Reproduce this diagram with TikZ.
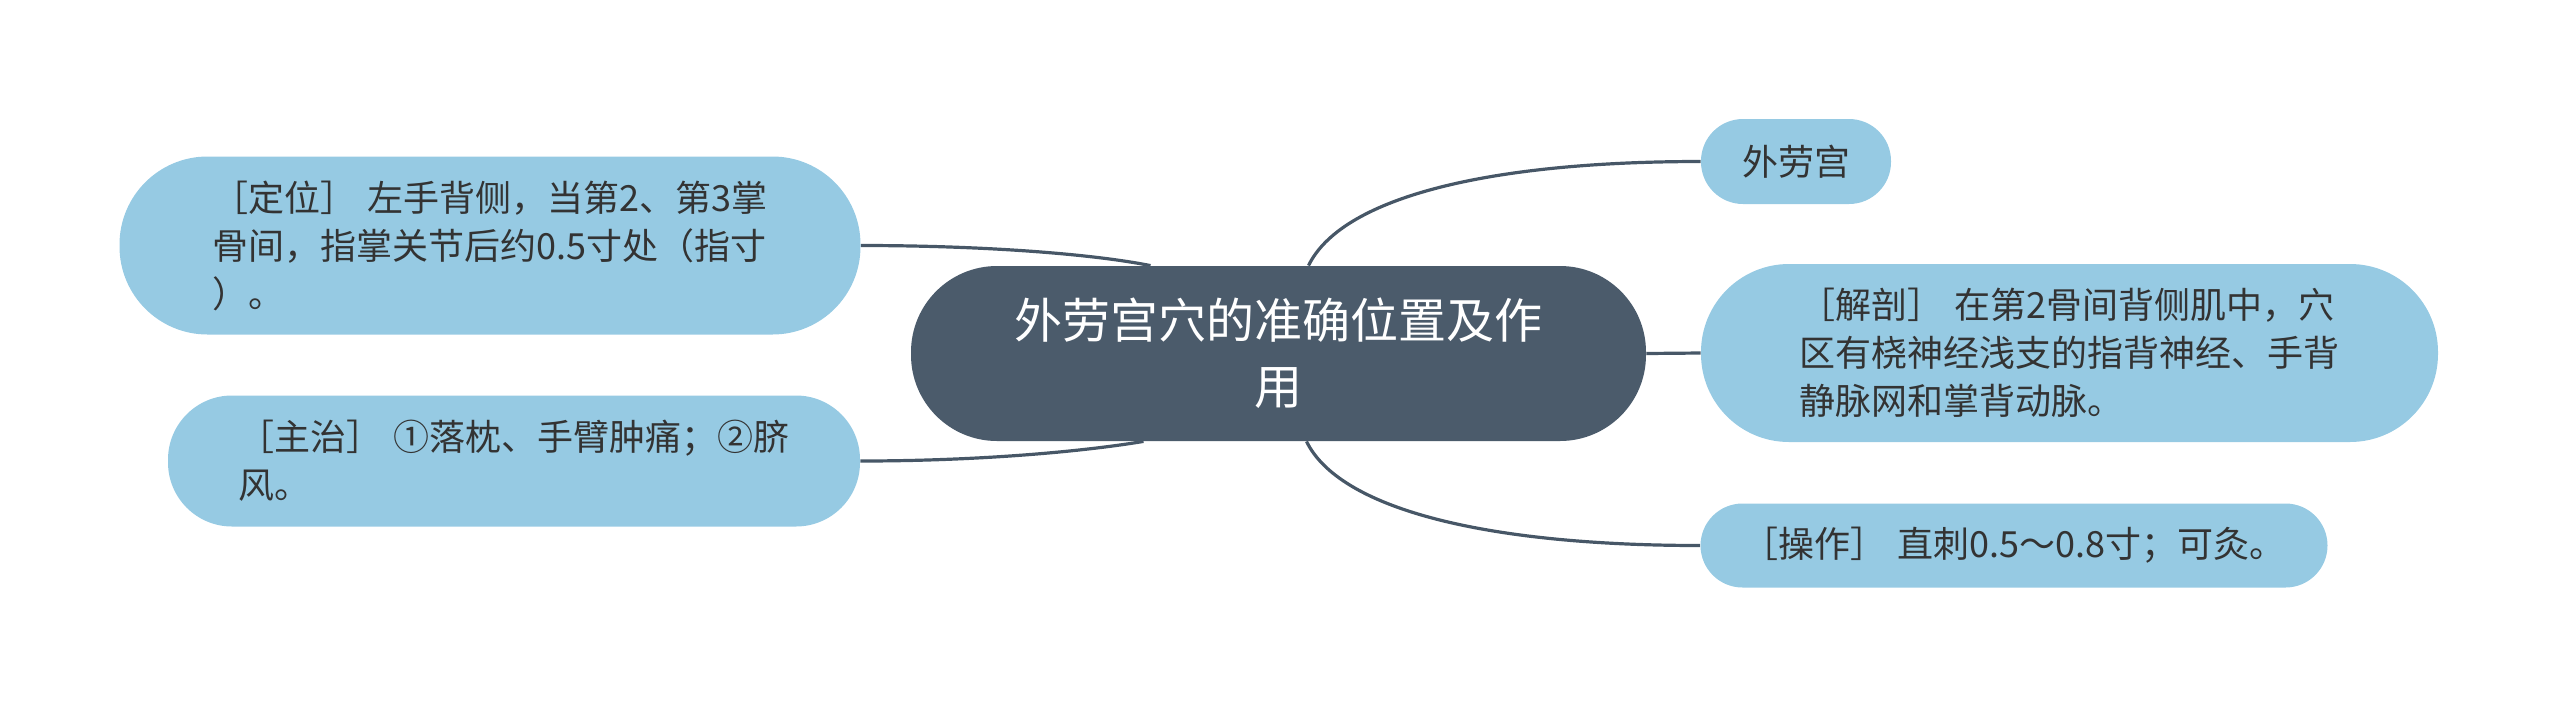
\documentclass[tikz,border=0pt]{standalone}
\usepackage{fontspec}
\setmainfont{Noto Sans CJK SC}
\usepackage{tikz}
\usetikzlibrary{backgrounds}
\definecolor{rootfill}{HTML}{4B5B6B}
\definecolor{leaffill}{HTML}{96CAE3}
\definecolor{linkcol}{HTML}{475767}
\definecolor{leaftext}{HTML}{333333}

\begin{document}
\begin{tikzpicture}[x=0.5pt, y=-0.5pt,
  root/.style={fill=rootfill, text=white, rounded corners=43pt, minimum width=367.5pt, minimum height=87.5pt, align=center, font=\fontsize{24pt}{33pt}\selectfont},
  leaf/.style={fill=leaffill, text=leaftext, align=left, font=\fontsize{18pt}{24pt}\selectfont},
  link/.style={draw=linkcol, line width=1.6pt}]
\useasboundingbox (0,0) rectangle (2560,708);
\node[root] (main) at (1278.5,353.5) {外劳宫穴的准确位置及作\\用};
\node[leaf, minimum width=95pt, minimum height=42.5pt, rounded corners=21pt] (wlg) at (1796,161.5) {外劳宫};
\node[leaf, minimum width=368.5pt, minimum height=89pt, rounded corners=44pt] (jp) at (2069.5,353) {［解剖］\hspace{0.3em}在第2骨间背侧肌中，穴\\区有桡神经浅支的指背神经、手背\\静脉网和掌背动脉。};
\node[leaf, minimum width=313.5pt, minimum height=42pt, rounded corners=21pt] (cz) at (2014,545.5) {［操作］\hspace{0.3em}直刺0.5～0.8寸；可灸。};
\node[leaf, minimum width=370.5pt, minimum height=89pt, rounded corners=44pt] (dw) at (490,245.5) {［定位］\hspace{0.3em}左手背侧，当第2、第3掌\\骨间，指掌关节后约0.5寸处（指寸\\）。};
\node[leaf, minimum width=346pt, minimum height=65.5pt, rounded corners=32pt] (zz) at (514,461) {［主治］\hspace{0.3em}①落枕、手臂肿痛；②脐\\风。};
\begin{scope}[on background layer]
\draw[link] ([xshift=15pt]main.north) .. controls +(32,-66) and +(-220,0) .. (wlg.west);
\draw[link] (main.east) -- (jp.west);
\draw[link] ([xshift=14pt]main.south) .. controls +(32,66) and +(-220,0) .. (cz.west);
\draw[link] ([xshift=-64pt]main.north) .. controls +(-60,-12) and +(120,0) .. (dw.east);
\draw[link] ([xshift=-67.5pt]main.south) .. controls +(-60,10) and +(120,0) .. (zz.east);
\end{scope}
\end{tikzpicture}
\end{document}
